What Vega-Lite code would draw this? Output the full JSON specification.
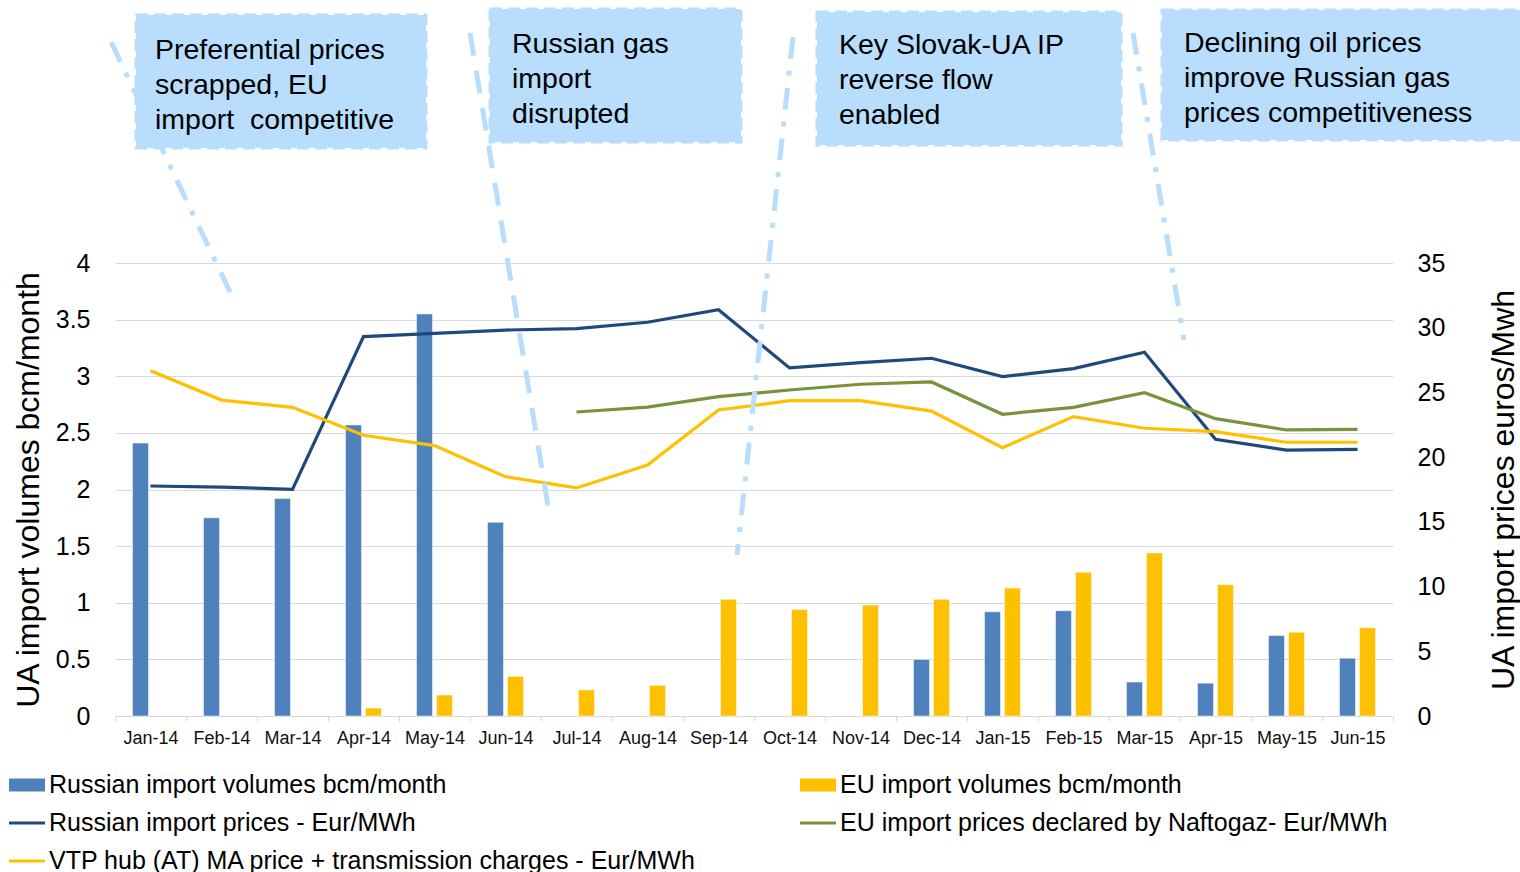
{
  "$schema": "https://vega.github.io/schema/vega-lite/v6.json",
  "width": 1278,
  "height": 453,
  "autosize": {"type": "none"},
  "padding": {"left": 115, "top": 263, "right": 127, "bottom": 156},
  "background": "white",
  "config": {
    "font": "Liberation Sans",
    "view": {"stroke": null},
    "legend": {
      "orient": "none",
      "direction": "horizontal",
      "legendX": -106,
      "legendY": 504,
      "columns": 2,
      "columnPadding": 103,
      "rowPadding": 7,
      "labelFontSize": 25,
      "labelColor": "black",
      "labelOffset": 4,
      "symbolSize": 1296,
      "symbolStrokeWidth": 0,
      "symbolOpacity": 1,
      "labelLimit": 0,
      "padding": 0
    }
  },
  "datasets": {
    "volumes": [
      {"month": "Jan-14", "series": "Russian import volumes bcm/month", "vol": 2.41},
      {"month": "Feb-14", "series": "Russian import volumes bcm/month", "vol": 1.75},
      {"month": "Mar-14", "series": "Russian import volumes bcm/month", "vol": 1.92},
      {"month": "Apr-14", "series": "Russian import volumes bcm/month", "vol": 2.57},
      {"month": "May-14", "series": "Russian import volumes bcm/month", "vol": 3.55},
      {"month": "Jun-14", "series": "Russian import volumes bcm/month", "vol": 1.71},
      {"month": "Dec-14", "series": "Russian import volumes bcm/month", "vol": 0.5},
      {"month": "Jan-15", "series": "Russian import volumes bcm/month", "vol": 0.92},
      {"month": "Feb-15", "series": "Russian import volumes bcm/month", "vol": 0.93},
      {"month": "Mar-15", "series": "Russian import volumes bcm/month", "vol": 0.3},
      {"month": "Apr-15", "series": "Russian import volumes bcm/month", "vol": 0.29},
      {"month": "May-15", "series": "Russian import volumes bcm/month", "vol": 0.71},
      {"month": "Jun-15", "series": "Russian import volumes bcm/month", "vol": 0.51},
      {"month": "Apr-14", "series": "EU import volumes bcm/month", "vol": 0.07},
      {"month": "May-14", "series": "EU import volumes bcm/month", "vol": 0.185},
      {"month": "Jun-14", "series": "EU import volumes bcm/month", "vol": 0.35},
      {"month": "Jul-14", "series": "EU import volumes bcm/month", "vol": 0.23},
      {"month": "Aug-14", "series": "EU import volumes bcm/month", "vol": 0.27},
      {"month": "Sep-14", "series": "EU import volumes bcm/month", "vol": 1.03},
      {"month": "Oct-14", "series": "EU import volumes bcm/month", "vol": 0.94},
      {"month": "Nov-14", "series": "EU import volumes bcm/month", "vol": 0.98},
      {"month": "Dec-14", "series": "EU import volumes bcm/month", "vol": 1.03},
      {"month": "Jan-15", "series": "EU import volumes bcm/month", "vol": 1.13},
      {"month": "Feb-15", "series": "EU import volumes bcm/month", "vol": 1.27},
      {"month": "Mar-15", "series": "EU import volumes bcm/month", "vol": 1.44},
      {"month": "Apr-15", "series": "EU import volumes bcm/month", "vol": 1.16},
      {"month": "May-15", "series": "EU import volumes bcm/month", "vol": 0.74},
      {"month": "Jun-15", "series": "EU import volumes bcm/month", "vol": 0.78}
    ],
    "prices": [
      {"month": "Jan-14", "series": "Russian import prices - Eur/MWh", "price": 17.77},
      {"month": "Feb-14", "series": "Russian import prices - Eur/MWh", "price": 17.69},
      {"month": "Mar-14", "series": "Russian import prices - Eur/MWh", "price": 17.51},
      {"month": "Apr-14", "series": "Russian import prices - Eur/MWh", "price": 29.31},
      {"month": "May-14", "series": "Russian import prices - Eur/MWh", "price": 29.57},
      {"month": "Jun-14", "series": "Russian import prices - Eur/MWh", "price": 29.82},
      {"month": "Jul-14", "series": "Russian import prices - Eur/MWh", "price": 29.93},
      {"month": "Aug-14", "series": "Russian import prices - Eur/MWh", "price": 30.42},
      {"month": "Sep-14", "series": "Russian import prices - Eur/MWh", "price": 31.39},
      {"month": "Oct-14", "series": "Russian import prices - Eur/MWh", "price": 26.89},
      {"month": "Nov-14", "series": "Russian import prices - Eur/MWh", "price": 27.3},
      {"month": "Dec-14", "series": "Russian import prices - Eur/MWh", "price": 27.64},
      {"month": "Jan-15", "series": "Russian import prices - Eur/MWh", "price": 26.22},
      {"month": "Feb-15", "series": "Russian import prices - Eur/MWh", "price": 26.84},
      {"month": "Mar-15", "series": "Russian import prices - Eur/MWh", "price": 28.1},
      {"month": "Apr-15", "series": "Russian import prices - Eur/MWh", "price": 21.38},
      {"month": "May-15", "series": "Russian import prices - Eur/MWh", "price": 20.55},
      {"month": "Jun-15", "series": "Russian import prices - Eur/MWh", "price": 20.6},
      {"month": "Jul-14", "series": "EU import prices declared by Naftogaz- Eur/MWh", "price": 23.49},
      {"month": "Aug-14", "series": "EU import prices declared by Naftogaz- Eur/MWh", "price": 23.87},
      {"month": "Sep-14", "series": "EU import prices declared by Naftogaz- Eur/MWh", "price": 24.67},
      {"month": "Oct-14", "series": "EU import prices declared by Naftogaz- Eur/MWh", "price": 25.19},
      {"month": "Nov-14", "series": "EU import prices declared by Naftogaz- Eur/MWh", "price": 25.63},
      {"month": "Dec-14", "series": "EU import prices declared by Naftogaz- Eur/MWh", "price": 25.81},
      {"month": "Jan-15", "series": "EU import prices declared by Naftogaz- Eur/MWh", "price": 23.31},
      {"month": "Feb-15", "series": "EU import prices declared by Naftogaz- Eur/MWh", "price": 23.85},
      {"month": "Mar-15", "series": "EU import prices declared by Naftogaz- Eur/MWh", "price": 24.98},
      {"month": "Apr-15", "series": "EU import prices declared by Naftogaz- Eur/MWh", "price": 22.97},
      {"month": "May-15", "series": "EU import prices declared by Naftogaz- Eur/MWh", "price": 22.1},
      {"month": "Jun-15", "series": "EU import prices declared by Naftogaz- Eur/MWh", "price": 22.15},
      {"month": "Jan-14", "series": "VTP hub (AT) MA price + transmission charges - Eur/MWh", "price": 26.68},
      {"month": "Feb-14", "series": "VTP hub (AT) MA price + transmission charges - Eur/MWh", "price": 24.41},
      {"month": "Mar-14", "series": "VTP hub (AT) MA price + transmission charges - Eur/MWh", "price": 23.85},
      {"month": "Apr-14", "series": "VTP hub (AT) MA price + transmission charges - Eur/MWh", "price": 21.69},
      {"month": "May-14", "series": "VTP hub (AT) MA price + transmission charges - Eur/MWh", "price": 20.89},
      {"month": "Jun-14", "series": "VTP hub (AT) MA price + transmission charges - Eur/MWh", "price": 18.49},
      {"month": "Jul-14", "series": "VTP hub (AT) MA price + transmission charges - Eur/MWh", "price": 17.62},
      {"month": "Aug-14", "series": "VTP hub (AT) MA price + transmission charges - Eur/MWh", "price": 19.39},
      {"month": "Sep-14", "series": "VTP hub (AT) MA price + transmission charges - Eur/MWh", "price": 23.64},
      {"month": "Oct-14", "series": "VTP hub (AT) MA price + transmission charges - Eur/MWh", "price": 24.36},
      {"month": "Nov-14", "series": "VTP hub (AT) MA price + transmission charges - Eur/MWh", "price": 24.36},
      {"month": "Dec-14", "series": "VTP hub (AT) MA price + transmission charges - Eur/MWh", "price": 23.56},
      {"month": "Jan-15", "series": "VTP hub (AT) MA price + transmission charges - Eur/MWh", "price": 20.73},
      {"month": "Feb-15", "series": "VTP hub (AT) MA price + transmission charges - Eur/MWh", "price": 23.13},
      {"month": "Mar-15", "series": "VTP hub (AT) MA price + transmission charges - Eur/MWh", "price": 22.23},
      {"month": "Apr-15", "series": "VTP hub (AT) MA price + transmission charges - Eur/MWh", "price": 21.97},
      {"month": "May-15", "series": "VTP hub (AT) MA price + transmission charges - Eur/MWh", "price": 21.15},
      {"month": "Jun-15", "series": "VTP hub (AT) MA price + transmission charges - Eur/MWh", "price": 21.15}
    ],
    "legendrows": [
      {"month": "Jan-14", "series": "Russian import volumes bcm/month", "vol": 0},
      {"month": "Jan-14", "series": "EU import volumes bcm/month", "vol": 0},
      {"month": "Jan-14", "series": "Russian import prices - Eur/MWh", "vol": 0},
      {"month": "Jan-14", "series": "EU import prices declared by Naftogaz- Eur/MWh", "vol": 0},
      {"month": "Jan-14", "series": "VTP hub (AT) MA price + transmission charges - Eur/MWh", "vol": 0}
    ],
    "boxes": [
      {"m": 0.296, "m2": 4.38, "v": 6.19, "v2": 5.015},
      {"m": 5.282, "m2": 8.817, "v": 6.243, "v2": 5.068},
      {"m": 9.887, "m2": 14.169, "v": 6.216, "v2": 5.042},
      {"m": 14.746, "m2": 19.789, "v": 6.234, "v2": 5.086}
    ],
    "notes": [
      {"m": 0.563, "v": 6.004, "label": "Preferential prices\nscrapped, EU\nimport\u00a0 competitive"},
      {"m": 5.592, "v": 6.057, "label": "Russian gas\nimport\ndisrupted"},
      {"m": 10.197, "v": 6.049, "label": "Key Slovak-UA IP\nreverse flow\nenabled"},
      {"m": 15.056, "v": 6.066, "label": "Declining oil prices\nimprove Russian gas\nprices competitiveness"}
    ],
    "dashdot": [
      {"m": -0.056, "v": 5.951, "m2": 1.648, "v2": 3.709},
      {"m": 9.549, "v": 5.996, "m2": 8.761, "v2": 1.422},
      {"m": 14.338, "v": 6.031, "m2": 15.056, "v2": 3.32}
    ],
    "dashed": [
      {"m": 5.0, "v": 6.031, "m2": 6.099, "v2": 1.854}
    ]
  },
  "layer": [
    {
      "layer": [
        {
          "data": {"name": "volumes"},
          "mark": {"type": "bar", "stroke": "white", "strokeWidth": 0.5},
          "encoding": {
            "x": {
              "field": "month", "type": "ordinal",
              "sort": ["Jan-14","Feb-14","Mar-14","Apr-14","May-14","Jun-14","Jul-14","Aug-14","Sep-14","Oct-14","Nov-14","Dec-14","Jan-15","Feb-15","Mar-15","Apr-15","May-15","Jun-15"],
              "scale": {"domain": ["Jan-14","Feb-14","Mar-14","Apr-14","May-14","Jun-14","Jul-14","Aug-14","Sep-14","Oct-14","Nov-14","Dec-14","Jan-15","Feb-15","Mar-15","Apr-15","May-15","Jun-15"], "paddingInner": 0, "paddingOuter": 0},
              "axis": {"title": null, "labelAngle": 0, "labelFontSize": 18, "labelColor": "#111", "labelPadding": 8, "tickSize": 5, "tickColor": "#D9D9D9", "domainColor": "#D9D9D9", "tickBand": "extent", "grid": false}
            },
            "xOffset": {
              "field": "series", "type": "nominal",
              "scale": {"domain": ["Russian import volumes bcm/month", "EU import volumes bcm/month"], "paddingInner": 0.2, "paddingOuter": 0.875}
            },
            "y": {
              "field": "vol", "type": "quantitative",
              "scale": {"domain": [0, 4], "nice": false},
              "axis": {"values": [0, 0.5, 1, 1.5, 2, 2.5, 3, 3.5, 4], "format": "~f", "grid": true, "gridColor": "#D9D9D9", "domain": false, "ticks": false, "tickSize": 0, "labelFontSize": 25, "labelColor": "black", "labelPadding": 25, "title": "UA import volumes bcm/month", "titleFontSize": 32, "titleFontWeight": "normal", "titleColor": "black", "titlePadding": 10}
            },
            "fill": {
              "field": "series", "type": "nominal",
              "scale": {"domain": ["Russian import volumes bcm/month", "EU import volumes bcm/month"], "range": ["#4F81BD", "#FFC000"]},
              "legend": null
            }
          }
        },
        {
          "data": {"name": "prices"},
          "mark": {"type": "line", "strokeWidth": 3.2},
          "encoding": {
            "x": {"field": "month", "type": "ordinal", "sort": ["Jan-14","Feb-14","Mar-14","Apr-14","May-14","Jun-14","Jul-14","Aug-14","Sep-14","Oct-14","Nov-14","Dec-14","Jan-15","Feb-15","Mar-15","Apr-15","May-15","Jun-15"]},
            "y": {
              "field": "price", "type": "quantitative",
              "scale": {"domain": [0, 35], "nice": false},
              "axis": {"orient": "right", "values": [0, 5, 10, 15, 20, 25, 30, 35], "grid": false, "domain": false, "ticks": false, "tickSize": 0, "labelFontSize": 25, "labelColor": "black", "labelPadding": 24, "title": "UA import prices euros/Mwh", "titleFontSize": 32, "titleFontWeight": "normal", "titleColor": "black", "titleAngle": 270, "titleBaseline": "top", "titlePadding": 44}
            },
            "stroke": {
              "field": "series", "type": "nominal",
              "scale": {"domain": ["Russian import prices - Eur/MWh", "EU import prices declared by Naftogaz- Eur/MWh", "VTP hub (AT) MA price + transmission charges - Eur/MWh"], "range": ["#1F497D", "#77933C", "#FFC000"]},
              "legend": null
            }
          }
        },
        {
          "data": {"name": "legendrows"},
          "mark": {"type": "point", "filled": true, "opacity": 0},
          "encoding": {
            "x": {"field": "month", "type": "ordinal", "sort": ["Jan-14","Feb-14","Mar-14","Apr-14","May-14","Jun-14","Jul-14","Aug-14","Sep-14","Oct-14","Nov-14","Dec-14","Jan-15","Feb-15","Mar-15","Apr-15","May-15","Jun-15"]},
            "y": {"field": "vol", "type": "quantitative", "axis": null},
            "color": {
              "field": "series", "type": "nominal",
              "scale": {"domain": ["Russian import volumes bcm/month", "EU import volumes bcm/month", "Russian import prices - Eur/MWh", "EU import prices declared by Naftogaz- Eur/MWh", "VTP hub (AT) MA price + transmission charges - Eur/MWh"], "range": ["#4F81BD", "#FFC000", "#1F497D", "#77933C", "#FFC000"]},
              "legend": {"title": null, "direction": "horizontal", "columns": 2}
            },
            "shape": {
              "field": "series", "type": "nominal",
              "scale": {"domain": ["Russian import volumes bcm/month", "EU import volumes bcm/month", "Russian import prices - Eur/MWh", "EU import prices declared by Naftogaz- Eur/MWh", "VTP hub (AT) MA price + transmission charges - Eur/MWh"], "range": ["M-1,-0.36H1V0.36H-1Z", "M-1,-0.36H1V0.36H-1Z", "M-1,-0.08H1V0.08H-1Z", "M-1,-0.08H1V0.08H-1Z", "M-1,-0.08H1V0.08H-1Z"]},
              "legend": {"title": null, "direction": "horizontal", "columns": 2}
            }
          }
        }
      ],
      "resolve": {"scale": {"y": "independent"}}
    },
    {
      "data": {"name": "dashdot"},
      "mark": {"type": "rule", "strokeWidth": 5, "color": "#B8DDFD", "strokeDash": [22, 12, 5, 12]},
      "encoding": {
        "x": {"field": "m", "type": "quantitative", "scale": {"domain": [0, 18], "nice": false, "zero": false}, "axis": null},
        "x2": {"field": "m2"},
        "y": {"field": "v", "type": "quantitative", "scale": {"domain": [0, 4], "nice": false}, "axis": null},
        "y2": {"field": "v2"}
      }
    },
    {
      "data": {"name": "dashed"},
      "mark": {"type": "rule", "strokeWidth": 5, "color": "#B8DDFD", "strokeDash": [23, 15]},
      "encoding": {
        "x": {"field": "m", "type": "quantitative", "scale": {"domain": [0, 18], "nice": false, "zero": false}, "axis": null},
        "x2": {"field": "m2"},
        "y": {"field": "v", "type": "quantitative", "scale": {"domain": [0, 4], "nice": false}, "axis": null},
        "y2": {"field": "v2"}
      }
    },
    {
      "data": {"name": "boxes"},
      "mark": {"type": "rect", "fill": "#B8DDFD", "stroke": "#B8DDFD", "strokeWidth": 3, "strokeDash": [12, 6]},
      "encoding": {
        "x": {"field": "m", "type": "quantitative", "scale": {"domain": [0, 18], "nice": false, "zero": false}, "axis": null},
        "x2": {"field": "m2"},
        "y": {"field": "v", "type": "quantitative", "scale": {"domain": [0, 4], "nice": false}, "axis": null},
        "y2": {"field": "v2"}
      }
    },
    {
      "data": {"name": "notes"},
      "mark": {"type": "text", "align": "left", "baseline": "top", "fontSize": 28.5, "lineHeight": 35, "lineBreak": "\n", "color": "black"},
      "encoding": {
        "x": {"field": "m", "type": "quantitative", "scale": {"domain": [0, 18], "nice": false, "zero": false}, "axis": null},
        "y": {"field": "v", "type": "quantitative", "scale": {"domain": [0, 4], "nice": false}, "axis": null},
        "text": {"field": "label"}
      }
    }
  ],
  "resolve": {"scale": {"x": "independent", "y": "independent"}}
}
